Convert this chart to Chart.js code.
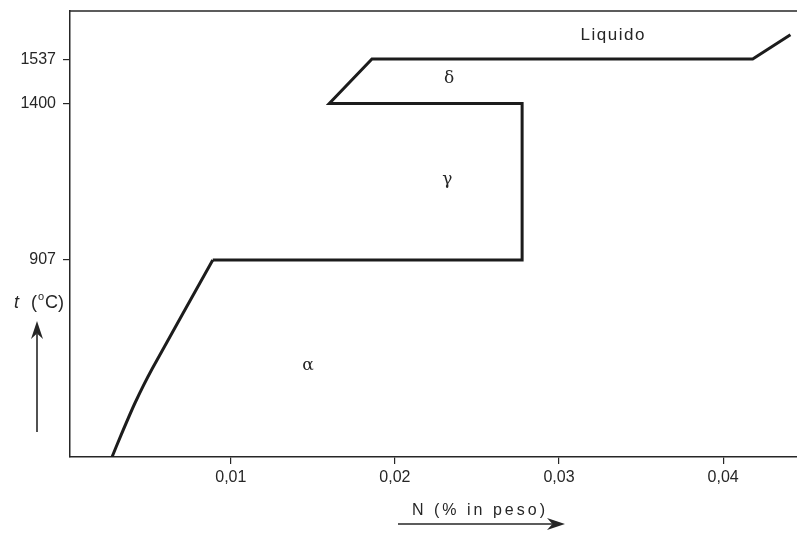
<!DOCTYPE html>
<html>
<head>
<meta charset="utf-8">
<script src="https://cdn.jsdelivr.net/npm/chart.js@4/dist/chart.umd.min.js"></script>
<style>
  html, body { margin: 0; padding: 0; background: #fff; }
</style>
</head>
<body>
<canvas id="grafico" width="797" height="535"></canvas>
<script>
// curva alfa (tratto curvo in basso a sinistra)
const azotoAlfa = [0.00276, 0.00331, 0.00416, 0.00520, 0.0089];
const tempAlfa = [287, 356, 457, 564, 907];
// resto della linea di separazione delle fasi
const azoto = [0.0089, 0.02775, 0.02775, 0.0160, 0.0186, 0.0418, 0.0441];
const temperatura = [907, 907, 1400, 1400, 1540, 1540, 1616];

// tacche degli assi
const xTicks = [0.01, 0.02, 0.03, 0.04];
const xTickLabels = ['0,01', '0,02', '0,03', '0,04'];
const yTicks = [907, 1400, 1537];
const yTickLabels = ['907', '1400', '1537'];

// nomi delle fasi e dove vanno scritti (N, t)
const fasi = ['Liquido', 'δ', 'γ', 'α'];
const fasiN = [0.0333, 0.0233, 0.0232, 0.0147];
const fasiT = [1613, 1477, 1159, 576];

const ink = '#262626';
const sans = '"Liberation Sans", Arial, sans-serif';

function freccia(ctx, x1, y1, x2, y2) {
    const ang = Math.atan2(y2 - y1, x2 - x1);
    const len = 18, half = 6;
    const c = Math.cos(ang), s = Math.sin(ang);
    ctx.beginPath();
    ctx.moveTo(x1, y1);
    ctx.lineTo(x2 - c * len * 0.7, y2 - s * len * 0.7);
    ctx.stroke();
    ctx.beginPath();
    ctx.moveTo(x2, y2);
    ctx.lineTo(x2 - c * len - s * half, y2 - s * len + c * half);
    ctx.lineTo(x2 - c * len * 0.7, y2 - s * len * 0.7);
    ctx.lineTo(x2 - c * len + s * half, y2 - s * len - c * half);
    ctx.closePath();
    ctx.fill();
}

const extra = {
    id: 'extra',
    beforeDraw(chart) {
        const ctx = chart.ctx;
        ctx.save();
        ctx.fillStyle = '#fff';
        ctx.fillRect(0, 0, chart.width, chart.height);
        ctx.restore();
    },
    afterDraw(chart) {
        const { ctx, chartArea: a, scales: { x, y } } = chart;
        ctx.save();
        ctx.strokeStyle = ink;
        ctx.fillStyle = ink;

        // bordo superiore
        ctx.lineWidth = 1.5;
        ctx.beginPath();
        ctx.moveTo(a.left, a.top);
        ctx.lineTo(a.right, a.top);
        ctx.stroke();

        // nomi delle fasi
        ctx.textAlign = 'center';
        ctx.textBaseline = 'middle';
        fasi.forEach((nome, i) => {
            ctx.font = i === 0 ? '17px ' + sans : '17px "DejaVu Serif", serif';
            ctx.letterSpacing = i === 0 ? '1.5px' : '0px';
            ctx.fillText(nome, x.getPixelForValue(fasiN[i]), y.getPixelForValue(fasiT[i]));
        });

        // titolo asse x con freccia
        ctx.font = '16px ' + sans;
        ctx.letterSpacing = '3px';
        ctx.fillText('N (% in peso)', 480, 511);
        ctx.letterSpacing = '0px';
        ctx.lineWidth = 1.6;
        freccia(ctx, 398, 524, 565, 524);

        // titolo asse y con freccia
        ctx.textAlign = 'left';
        ctx.font = 'italic 18px ' + sans;
        ctx.fillText('t', 14, 303);
        ctx.font = '18px ' + sans;
        ctx.fillText('(', 31, 303);
        ctx.font = '11px ' + sans;
        ctx.fillText('o', 38, 297);
        ctx.font = '18px ' + sans;
        ctx.fillText('C)', 45, 303);
        freccia(ctx, 37, 432, 37, 321);

        ctx.restore();
    }
};

const lineStyle = {
    borderColor: '#1c1c1c',
    borderWidth: 3,
    pointRadius: 0,
    fill: false
};

const config = {
    type: 'line',
    data: {
        datasets: [
            Object.assign({ data: azotoAlfa.map((n, i) => ({ x: n, y: tempAlfa[i] })), tension: 0.2 }, lineStyle),
            Object.assign({ data: azoto.map((n, i) => ({ x: n, y: temperatura[i] })), tension: 0 }, lineStyle)
        ]
    },
    options: {
        responsive: false,
        animation: false,
        layout: { padding: { top: 11, right: 0, left: 0, bottom: 0 } },
        plugins: { legend: { display: false }, tooltip: { enabled: false } },
        scales: {
            x: {
                type: 'linear',
                min: 0.0002,
                max: 0.0445,
                afterFit(scale) {
                    scale.height = 78;
                    scale.paddingLeft = 0;
                    scale.paddingRight = 0;
                },
                afterBuildTicks(scale) { scale.ticks = xTicks.map(v => ({ value: v })); },
                border: { display: true, color: ink, width: 1.5 },
                grid: { drawOnChartArea: false, drawTicks: true, tickLength: 7, color: ink, lineWidth: 1.2 },
                ticks: {
                    color: ink,
                    padding: 4,
                    maxRotation: 0,
                    font: { family: sans, size: 16 },
                    callback: v => xTickLabels[xTicks.indexOf(v)]
                }
            },
            y: {
                type: 'linear',
                min: 287,
                max: 1691,
                afterFit(scale) {
                    scale.width = 70;
                    scale.paddingTop = 0;
                    scale.paddingBottom = 0;
                },
                afterBuildTicks(scale) { scale.ticks = yTicks.map(v => ({ value: v })); },
                border: { display: true, color: ink, width: 1.5 },
                grid: { drawOnChartArea: false, drawTicks: true, tickLength: 7, color: ink, lineWidth: 1.2 },
                ticks: {
                    color: ink,
                    padding: 7,
                    font: { family: sans, size: 16 },
                    callback: v => yTickLabels[yTicks.indexOf(v)]
                }
            }
        }
    },
    plugins: [extra]
};

new Chart(document.getElementById('grafico'), config);
</script>
</body>
</html>
